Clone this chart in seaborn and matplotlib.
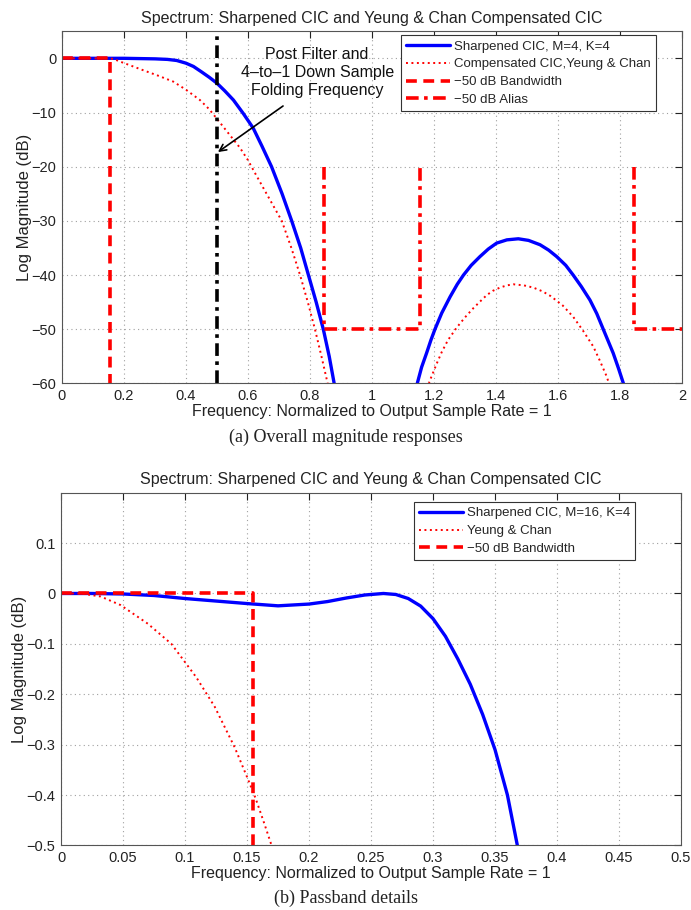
import matplotlib
matplotlib.use("Agg")
import matplotlib.pyplot as plt
import seaborn as sns

# ---- panel (a): overall magnitude responses ----
sharp_a_x = [0, 0.1, 0.2, 0.3, 0.34, 0.37, 0.4, 0.424, 0.45, 0.475, 0.5, 0.525, 0.553,
             0.585, 0.617, 0.645, 0.676, 0.71, 0.741, 0.77, 0.795, 0.82, 0.843,
             0.862, 0.878, 0.895]
sharp_a_y = [0, 0, 0, -0.1, -0.2, -0.4, -0.9, -1.5, -2.5, -3.5, -4.6, -6.0, -7.7,
             -10.2, -12.9, -16.2, -20, -25, -30, -35, -40, -45, -50,
             -55, -60, -65]
sharp_a_lobe_x = [1.135, 1.146, 1.16, 1.176, 1.19, 1.203, 1.225, 1.252, 1.275, 1.295,
                  1.32, 1.348, 1.375, 1.402, 1.435, 1.472, 1.505, 1.542, 1.57, 1.596,
                  1.625, 1.649, 1.675, 1.703, 1.725, 1.746, 1.762, 1.778, 1.795,
                  1.811, 1.825]
sharp_a_lobe_y = [-64, -60, -57, -54.4, -52, -50, -47, -44, -41.7, -40,
                  -38.2, -36.6, -35.2, -34.1, -33.5, -33.3, -33.6, -34.4, -35.4, -36.6,
                  -38.2, -40, -42.1, -44.6, -47.1, -50, -52.2, -54.4, -57.2,
                  -60, -63]

yc_a_x = [0, 0.155, 0.17, 0.187, 0.22, 0.262, 0.31, 0.359, 0.4, 0.445, 0.475, 0.499,
          0.535, 0.574, 0.6, 0.617, 0.66, 0.709, 0.74, 0.768, 0.793, 0.816, 0.837,
          0.857, 0.87]
yc_a_y = [0, 0, -0.2, -0.6, -1.3, -2.2, -3.2, -4.3, -5.8, -7.7, -9.4, -11.1,
          -13.7, -16.5, -18.8, -20.6, -25, -30, -35, -40, -45, -50, -55,
          -60, -64]
yc_a_lobe_x = [1.175, 1.185, 1.197, 1.209, 1.225, 1.245, 1.273, 1.3, 1.327, 1.35,
               1.37, 1.39, 1.413, 1.435, 1.456, 1.49, 1.52, 1.55, 1.577, 1.615,
               1.649, 1.68, 1.714, 1.735, 1.757, 1.77]
yc_a_lobe_y = [-63, -59.7, -58, -56.3, -54.2, -52, -49.7, -47.8, -46.1, -44.8,
               -43.7, -42.9, -42.3, -41.9, -41.7, -41.9, -42.3, -43, -43.9, -45.6,
               -47.7, -50.2, -53.2, -55.8, -58.7, -61]

bw_a_x = [0, 0.155, 0.155]
bw_a_y = [0, 0, -65]
alias1_x = [0.845, 0.845, 1.155, 1.155]
alias1_y = [-20, -50, -50, -20]
alias2_x = [1.845, 1.845, 2.0]
alias2_y = [-20, -50, -50]
fold_x = [0.5, 0.5]
fold_y = [-60, 5]

# ---- panel (b): passband details ----
sharp_b_x = [0, 0.025, 0.05, 0.075, 0.1, 0.125, 0.15, 0.175, 0.2, 0.215, 0.23, 0.245,
             0.26, 0.27, 0.28, 0.29, 0.30, 0.31, 0.32, 0.33, 0.34, 0.35, 0.36,
             0.368, 0.37]
sharp_b_y = [0, 0, -0.001, -0.004, -0.01, -0.015, -0.02, -0.0245, -0.021, -0.016,
             -0.009, -0.003, 0, -0.002, -0.01, -0.025, -0.05, -0.085, -0.13, -0.18,
             -0.24, -0.31, -0.4, -0.5, -0.53]
yc_b_x = [0, 0.016, 0.032, 0.048, 0.07, 0.089, 0.109, 0.124, 0.14, 0.15, 0.157,
          0.164, 0.169, 0.171]
yc_b_y = [0, 0, -0.006, -0.023, -0.06, -0.1, -0.166, -0.225, -0.305, -0.364,
          -0.407, -0.457, -0.494, -0.51]
bw_b_x = [0, 0.155, 0.155]
bw_b_y = [0, 0, -0.5]

sns.set_style("white")
plt.rcParams["font.family"] = ["Liberation Sans", "DejaVu Sans"]

BLUE = "#0000ff"
RED = "#ff0000"
INK = "#222222"
sharp_kw = dict(color=BLUE, linewidth=2.4)
yc_kw = dict(color=RED, linewidth=1.4, linestyle=(0, (1, 1.8)))
bw_kw = dict(color=RED, linewidth=2.6, linestyle=(0, (3, 1.8)))
alias_kw = dict(color=RED, linewidth=2.6, linestyle=(0, (3.5, 1.5, 1, 1.5)))
fold_kw = dict(color="black", linewidth=2.6, linestyle=(0, (3.5, 1.5, 1, 1.5)))


def draw(ax, x, y, **kw):
    sns.lineplot(x=x, y=y, ax=ax, estimator=None, sort=False, **kw)
    return ax.lines[-1]


def style_axes(ax):
    ax.grid(True, color="#a0a0a0", linestyle=(0, (1, 3)), linewidth=0.8)
    ax.tick_params(direction="in", top=True, right=True, length=5, width=0.8,
                   labelsize=10.5, colors=INK, pad=4)
    for sp in ax.spines.values():
        sp.set_color("#555555")
        sp.set_linewidth(0.8)
    ax.set_title("Spectrum: Sharpened CIC and Yeung & Chan Compensated CIC",
                 fontsize=11.5, pad=6, color=INK)
    ax.set_xlabel("Frequency: Normalized to Output Sample Rate = 1",
                  fontsize=11.5, labelpad=1, color=INK)
    ax.set_ylabel("Log Magnitude (dB)", fontsize=12, labelpad=0, color=INK)


def legend(ax, handles, labels, anchor):
    leg = ax.legend(handles, labels, loc="upper right", bbox_to_anchor=anchor,
                    borderaxespad=0, fontsize=9.5, handlelength=3.3, handletextpad=0.3,
                    labelspacing=0.42, borderpad=0.4, fancybox=False, framealpha=1)
    leg.get_frame().set_edgecolor("#333333")
    leg.get_frame().set_linewidth(0.8)


fig = plt.figure(figsize=(6.91, 9.10), dpi=100)
ax1 = fig.add_axes([0.0897, 0.5786, 0.8973, 0.3871])
ax2 = fig.add_axes([0.0883, 0.0709, 0.8973, 0.3877])

# panel (a)
h1 = draw(ax1, sharp_a_x, sharp_a_y, **sharp_kw)
draw(ax1, sharp_a_lobe_x, sharp_a_lobe_y, **sharp_kw)
h2 = draw(ax1, yc_a_x, yc_a_y, **yc_kw)
draw(ax1, yc_a_lobe_x, yc_a_lobe_y, **yc_kw)
h3 = draw(ax1, bw_a_x, bw_a_y, **bw_kw)
h4 = draw(ax1, alias1_x, alias1_y, **alias_kw)
draw(ax1, alias2_x, alias2_y, **alias_kw)
draw(ax1, fold_x, fold_y, **fold_kw)
ax1.set_xlim(0, 2)
ax1.set_ylim(-60, 5)
ax1.set_xticks([0, 0.2, 0.4, 0.6, 0.8, 1, 1.2, 1.4, 1.6, 1.8, 2])
ax1.set_xticklabels(["0", "0.2", "0.4", "0.6", "0.8", "1", "1.2", "1.4", "1.6", "1.8", "2"])
ax1.set_yticks([-60, -50, -40, -30, -20, -10, 0])
style_axes(ax1)
ax1.text(0.823, -2.6, "Post Filter and\n4\u2013to\u20131 Down Sample\nFolding Frequency",
         ha="center", va="center", fontsize=11.5, linespacing=1.22, color="#111111")
ax1.annotate("", xy=(0.503, -17.3), xytext=(0.713, -8.8),
             arrowprops=dict(arrowstyle="->", color="black", lw=1.2,
                             shrinkA=0, shrinkB=0, mutation_scale=12))
legend(ax1, [h1, h2, h3, h4],
       ["Sharpened CIC, M=4, K=4", "Compensated CIC,Yeung & Chan",
        "\u221250 dB Bandwidth", "\u221250 dB Alias"], (0.958, 0.989))

# panel (b)
g1 = draw(ax2, sharp_b_x, sharp_b_y, **sharp_kw)
g2 = draw(ax2, yc_b_x, yc_b_y, **yc_kw)
g3 = draw(ax2, bw_b_x, bw_b_y, **bw_kw)
ax2.set_xlim(0, 0.5)
ax2.set_ylim(-0.5, 0.2)
ax2.set_xticks([0, 0.05, 0.1, 0.15, 0.2, 0.25, 0.3, 0.35, 0.4, 0.45, 0.5])
ax2.set_xticklabels(["0", "0.05", "0.1", "0.15", "0.2", "0.25", "0.3", "0.35",
                     "0.4", "0.45", "0.5"])
ax2.set_yticks([-0.5, -0.4, -0.3, -0.2, -0.1, 0, 0.1])
ax2.set_yticklabels(["\u22120.5", "\u22120.4", "\u22120.3", "\u22120.2", "\u22120.1", "0", "0.1"])
style_axes(ax2)
legend(ax2, [g1, g2, g3],
       ["Sharpened CIC, M=16, K=4", "Yeung & Chan", "\u221250 dB Bandwidth"],
       (0.926, 0.974))

# captions
serif = ["Liberation Serif", "DejaVu Serif"]
fig.text(0.5, 1 - 437 / 910, "(a) Overall magnitude responses", ha="center", va="center",
         fontsize=13, family=serif, color=INK)
fig.text(0.5, 1 - 898 / 910, "(b) Passband details", ha="center", va="center",
         fontsize=13, family=serif, color=INK)

fig.savefig("out.png", dpi=100)
